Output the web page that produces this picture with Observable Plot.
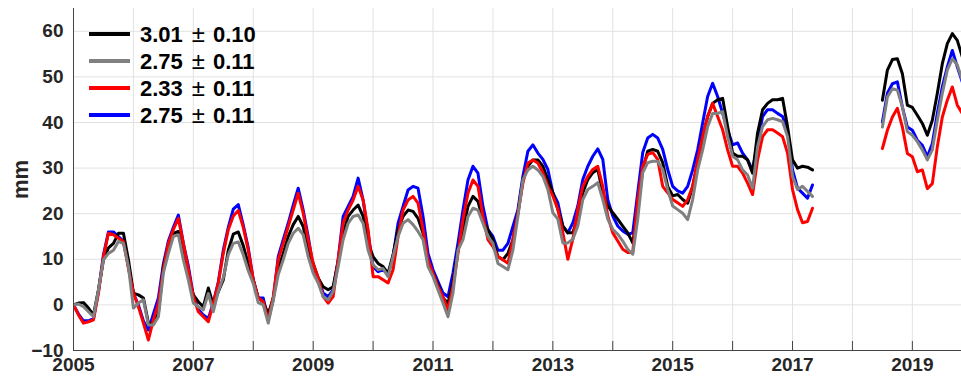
<!DOCTYPE html>
<html>
<head>
<meta charset="utf-8">
<script src="https://cdn.jsdelivr.net/npm/d3@7"></script>
<script src="https://cdn.jsdelivr.net/npm/@observablehq/plot@0.6"></script>
<style>
  html, body { margin: 0; padding: 0; background: #fff; }
  #wrap { position: relative; width: 961px; height: 384px; font-family: "Liberation Sans", Arial, Helvetica, sans-serif; }
  #legend { position: absolute; left: 89px; top: 21px; }
  .row { display: flex; align-items: center; height: 26.8px; }
  .sw { width: 41px; height: 4px; margin-right: 10px; }
  .lt { font-size: 22px; font-weight: bold; color: #000; white-space: nowrap; }
  .pm { font-weight: normal; font-size: 24px; margin: 0 8px 0 9px; }
</style>
</head>
<body>
<div id="wrap"></div>
<script>
// ---- data (monthly values, mm) ----
const seg1Start = 2005;      // first month of segment 1
const seg2Start = 2018.5;    // first month of segment 2
const gridYears = [2005,2006,2007,2008,2009,2010,2011,2012,2013,2014,2015,2016,2017,2018,2019];
const labelYears = [2005,2007,2009,2011,2013,2015,2017,2019];
const yTicks = [-10,0,10,20,30,40,50,60];
const legendLabels = [["3.01","0.10"],["2.75","0.11"],["2.33","0.11"],["2.75","0.11"]];

const black1 = [
  0,0.4,0.5,-0.7,-2.2,3.3,9.9,12.5,13.5,15.7,15.7,9.9,
  2.6,2.2,1.5,-4,-4,-1.8,8.4,12.8,15.7,16.1,10.6,6.2,
  2.2,0.7,-0.4,3.7,0,2.9,5.5,12,15.5,16,13,9,
  5.5,1.5,0.7,-2,1.5,7.7,11.3,15,17.6,19.4,17.2,12,
  9.1,5.9,4,3.3,4,9.5,15.7,19.4,20.8,21.9,19.4,13.5,
  10.6,9.1,8.4,6.9,11,16.5,19.4,20.8,20.5,19,15.7,9.1,
  6.9,4.4,1.5,0.4,4.8,12,16.5,21.6,23.8,22.7,18.7,16.5,
  14.3,10.6,9.9,11.3,14.3,20.1,27.4,30.4,31.8,31.8,30.4,27.5,
  24.6,21,17.3,15.8,15.8,19.5,24.6,27.5,29,29.7,24.6,21.7,
  20.2,18.8,17.3,15.8,13.6,21,29.7,33.7,34.1,33.7,31.2,26,
  23.9,24.2,23.1,22.3,26,31.1,36.9,41.3,44.2,45,45.3,39.1,
  33.3,32.6,32.6,31.8,28.9,37.7,42.8,44.2,45,45,45.3,39.1,
  31.8,30,30.4,30.2,29.6
];
const gray1 = [
  0,0.2,-0.4,-1.5,-2.6,3.3,9.9,11.3,12,13.9,13.5,8.4,
  -0.7,0.4,1.1,-4.4,-4.4,-2.6,7,11.3,15,15.4,9.9,5.5,
  0.4,-0.4,-1.1,2.5,-1.5,3,6,11,13.5,13.8,11,7.5,
  4.7,0.5,0,-4,1,6.6,9.9,13.5,15.7,16.8,15.4,10.6,
  7,4.8,1.8,1.1,3,8.4,14.3,17.9,19.4,19.7,17.9,12,
  8.8,7.7,8,6.2,10.6,15,17.9,18.7,17.6,16.1,14.3,8.4,
  6.2,3.3,0.4,-2.6,2.6,12,14.3,19.4,21.2,20.8,17.9,15,
  13.5,9.1,8.4,7.7,12,19.4,27.4,29.6,30.4,29.6,28.2,25.3,
  20.2,18.8,13.6,13.6,14.4,17.3,23.1,25.3,26,26.8,23.1,18.8,
  16.6,15.5,14,12.2,11.1,18.8,29,31.2,31.5,31.5,29.7,25.3,
  21.7,20.9,20.1,18.7,23.1,29.6,34,39.1,42,42,42.4,36.9,
  32.6,31.8,29.6,28.5,25.6,34.7,39.1,40.6,40.9,40.6,40.2,36.9,
  28.2,25.3,26,24.9,23.8
];
const red1 = [
  0,-2.2,-4,-3.7,-3.3,2.6,10.6,15.7,15.4,14.6,13.9,8,
  2.6,-0.4,-4,-7.7,-3.3,0.4,7.7,13.5,16.5,19,13.5,7.7,
  1.8,-1.5,-2.6,-3.7,0.4,4.8,11.3,16.5,19.5,20.7,17,12,
  5.5,1.5,0.7,-3.3,1.8,9.9,13.5,17.2,20.8,24.5,20.1,14.3,
  9.1,5.9,1.8,0.4,1.8,9.9,17.9,20.8,23,26,23,16.5,
  6.2,6.2,5.5,4.8,7.7,15,20.8,23,23.8,22.3,16.5,9.9,
  6.9,4,1.8,-1.1,4,11.3,18.7,24.5,27.4,26,19.4,14.3,
  12.8,10.6,9.9,9.1,14.3,20.1,26.7,31.1,31.8,31.1,29,26,
  23.9,21,15.8,10,14.4,21,26,28.2,29.7,30.4,26,19.5,
  15.8,14,12.2,11.5,11.5,23.1,30.4,33,33.4,31.9,26,24.6,
  23.1,22.4,21.6,23.1,26,31.8,36.9,41.3,44.2,41.3,38.4,34,
  30.4,30.4,28.9,26.7,24.2,31.8,36.9,38.4,38.4,37.7,36.9,33.3,
  25.3,20.9,18,18.3,21.2
];
const blue1 = [
  0,-2,-3.5,-3.5,-3,3,11,16,16,15,14,8.5,
  2.5,0,-3.5,-5.5,-2,1.5,9,14,17,19.7,13.5,8.5,
  2,-1,-2.2,-3,0.5,5,12,17,21,22,17.5,12.5,
  5.5,1.5,1.5,-3.3,1.1,10.6,14.3,17.9,21.9,25.6,20.8,15,
  8.4,5.9,2.6,1.8,3.3,9.9,19.4,21.6,23.8,27.8,23,15.7,
  8.4,7.3,7.7,6.6,10.6,17.9,21.6,25.2,26,25.6,19.4,11.3,
  7.7,5.1,2.6,1.8,7,13.5,20.8,27.4,30.4,28.9,21.6,16.5,
  15,12,12,13.5,17.2,20.8,28.2,33.7,35.1,33.3,31.9,29.7,
  24.6,22.4,17.3,15.8,18,21.7,27.5,30.4,32.6,34.2,31.9,23.1,
  19.5,17.3,16.2,15.5,15.8,24.6,33.4,36.6,37.4,36.6,34.1,29.7,
  26,25,24.5,26,29.6,34,39.9,45.7,48.6,45.7,42,38.4,
  35.1,35.5,33.3,31.8,29.6,35.5,41.3,42.8,42.8,42,41.3,38.4,
  29.6,25.6,24.5,23.4,26.3
];
const black2 = [44.9,51.5,53.8,54,50.7,43.8,43.3,41.6,39.8,37.2,40.5,46.4,52.9,57.3,59.5,58,54.4];
const gray2  = [39,45.6,47.4,47.1,43.4,38,37.2,35.8,34,31.8,34,40.5,46.4,51.5,54,52.6,49.3];
const red2   = [34.3,38.3,41.2,43.1,39,33.2,32.5,29.2,29.6,25.5,26.6,34.7,41.2,44.9,47.8,43.8,42];
const blue2  = [40.1,46.4,48.5,48.9,43.4,39,38.3,36.1,35,32.5,35.4,42,47.8,52.2,55.8,52.2,48.9];

const colors = {black: "#000000", gray: "#808080", red: "#ff0000", blue: "#0000ff"};
const series = [
  {name: "black", s1: black1, s2: black2},
  {name: "gray",  s1: gray1,  s2: gray2},
  {name: "red",   s1: red1,   s2: red2},
  {name: "blue",  s1: blue1,  s2: blue2}
];
const drawOrder = ["blue", "black", "red", "gray"];

function rows(vals, start) { return vals.map((v, i) => ({t: start + i / 12, v})); }

const xDomain = [2005, 2019.82];
const lineMarks = [];
for (const name of drawOrder) {
  const s = series.find(d => d.name === name);
  for (const [vals, start] of [[s.s1, seg1Start], [s.s2, seg2Start]]) {
    lineMarks.push(Plot.line(rows(vals, start), {x: "t", y: "v", stroke: colors[name], strokeWidth: 3, clip: true}));
  }
}

const chart = Plot.plot({
  width: 961, height: 384,
  marginLeft: 73, marginTop: 8, marginBottom: 34, marginRight: 0,
  x: {domain: xDomain},
  y: {domain: [-10, 65]},
  style: {fontFamily: '"Liberation Sans", Arial, Helvetica, sans-serif', fontSize: "19px", fontWeight: "bold", color: "#262626", background: "#fff"},
  marks: [
    Plot.gridX(gridYears, {stroke: "#e2e2e2", strokeOpacity: 1}),
    Plot.gridY(yTicks, {stroke: "#e2e2e2", strokeOpacity: 1}),
    ...lineMarks,
    Plot.ruleX([xDomain[0]], {stroke: "#444"}),
    Plot.ruleY([-10], {stroke: "#444"}),
    Plot.axisX(gridYears, {tickSize: -9, stroke: "#444", tickFormat: () => "", label: null}),
    Plot.axisX(labelYears, {tickSize: 0, tickPadding: 7, tickFormat: d => String(d), label: null}),
    Plot.axisY(yTicks, {tickSize: 0, tickPadding: 10, label: null, fontSize: 19}),
    Plot.axisY([], {tickSize: 0, label: "mm", labelAnchor: "center", labelArrow: "none", labelOffset: 61, fontSize: 22})
  ]
});
const wrap = document.getElementById("wrap");
wrap.appendChild(chart);

const legend = document.createElement("div");
legend.id = "legend";
series.forEach((s, i) => {
  const row = document.createElement("div");
  row.className = "row";
  const sw = document.createElement("div");
  sw.className = "sw";
  sw.style.background = colors[s.name];
  const t = document.createElement("span");
  t.className = "lt";
  t.innerHTML = `${legendLabels[i][0]}<span class="pm">±</span>${legendLabels[i][1]}`;
  row.appendChild(sw); row.appendChild(t);
  legend.appendChild(row);
});
wrap.appendChild(legend);
</script>
</body>
</html>
